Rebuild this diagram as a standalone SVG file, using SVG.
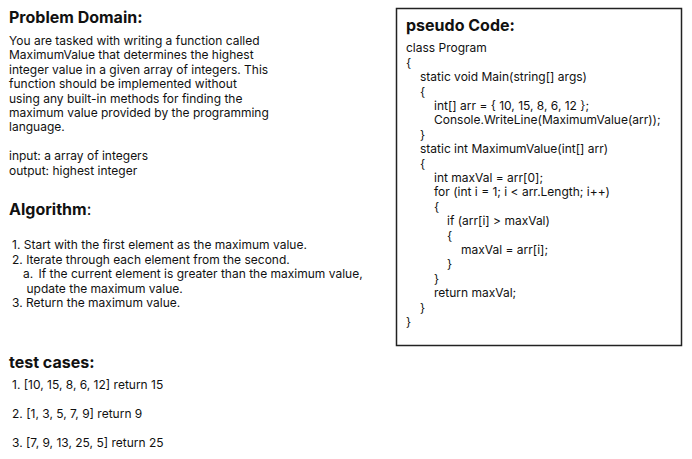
<svg xmlns="http://www.w3.org/2000/svg" width="692" height="459" viewBox="0 0 692 459">
<style>
text{font-family:Inter,"Noto Sans","Liberation Sans",sans-serif;fill:#111;}
.h{font-size:16px;font-weight:700;}
.b{font-size:12px;}
.box{fill:#fff;stroke:#222;stroke-width:1.5;}
</style>
<rect width="692" height="459" fill="#fff"/>
<g id="problem-domain">
<text class="h" x="9" y="23">Problem Domain:</text>
<text class="b" x="9" y="45">You are tasked with writing a function called</text>
<text class="b" x="9" y="59.4">MaximumValue that determines the highest</text>
<text class="b" x="9" y="73.8">integer value in a given array of integers. This</text>
<text class="b" x="9" y="88.2">function should be implemented without</text>
<text class="b" x="9" y="102.6">using any built-in methods for finding the</text>
<text class="b" x="9" y="117">maximum value provided by the programming</text>
<text class="b" x="9" y="131.4">language.</text>
<text class="b" x="9" y="160.2">input: a array of integers</text>
<text class="b" x="9" y="174.6">output: highest integer</text>
</g>
<g id="algorithm">
<text class="h" x="9" y="215">Algorithm<tspan font-weight="400">:</tspan></text>
<text class="b" x="12" y="249">1. Start with the first element as the maximum value.</text>
<text class="b" x="12" y="263.5">2. Iterate through each element from the second.</text>
<text class="b" x="23" y="278">a.<tspan x="38.5">If the current element is greater than the maximum value,</tspan></text>
<text class="b" x="26.5" y="292.5">update the maximum value.</text>
<text class="b" x="12" y="307">3. Return the maximum value.</text>
</g>
<g id="test-cases">
<text class="h" x="9" y="368">test cases:</text>
<text class="b" x="12" y="389">1. [10, 15, 8, 6, 12] return 15</text>
<text class="b" x="12" y="418">2. [1, 3, 5, 7, 9] return 9</text>
<text class="b" x="12" y="447">3. [7, 9, 13, 25, 5] return 25</text>
</g>
<g id="pseudo-code">
<rect class="box" x="396.5" y="8.5" width="285" height="337"/>
<text class="h" x="406" y="31">pseudo Code:</text>
<text class="b" x="406" y="52.3">class Program</text>
<text class="b" x="406" y="66.7">{</text>
<text class="b" x="420" y="81.1">static void Main(string[] args)</text>
<text class="b" x="420" y="95.5">{</text>
<text class="b" x="434" y="109.9">int[] arr = { 10, 15, 8, 6, 12 };</text>
<text class="b" x="434" y="124.3">Console.WriteLine(MaximumValue(arr));</text>
<text class="b" x="420" y="138.7">}</text>
<text class="b" x="420" y="153.1">static int MaximumValue(int[] arr)</text>
<text class="b" x="420" y="167.5">{</text>
<text class="b" x="434" y="181.9">int maxVal = arr[0];</text>
<text class="b" x="434" y="196.3">for (int i = 1; i &lt; arr.Length; i++)</text>
<text class="b" x="434" y="210.7">{</text>
<text class="b" x="447" y="225.1">if (arr[i] &gt; maxVal)</text>
<text class="b" x="447" y="239.5">{</text>
<text class="b" x="461" y="253.9">maxVal = arr[i];</text>
<text class="b" x="447" y="268.3">}</text>
<text class="b" x="434" y="282.7">}</text>
<text class="b" x="434" y="297.1">return maxVal;</text>
<text class="b" x="420" y="311.5">}</text>
<text class="b" x="406" y="325.9">}</text>
</g>
</svg>
